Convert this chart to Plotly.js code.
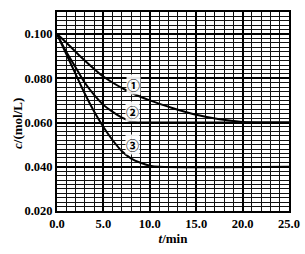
<!DOCTYPE html>
<html><head><meta charset="utf-8">
<script src="https://cdn.plot.ly/plotly-3.0.1.min.js"></script>
<style>html,body{margin:0;padding:0;background:#fff}#chart{width:305px;height:254px}</style>
</head><body><div id="chart"></div>
<script>
const t1 = [0, 1, 2.5, 5, 7.5, 10, 12.5, 15, 17.5, 20, 22.5, 25];
const c1 = [0.100, 0.0962, 0.0900, 0.0808, 0.0745, 0.0700, 0.0665, 0.0635, 0.0615, 0.0603, 0.0600, 0.0600];
const t2 = [0, 1, 2, 3, 4, 5, 6, 7, 8, 9, 10, 25];
const c2 = [0.100, 0.092, 0.085, 0.078, 0.0725, 0.068, 0.0648, 0.0622, 0.0605, 0.0600, 0.0600, 0.0600];
const t3 = [0, 1, 2, 3, 4, 5, 6, 7, 8, 9, 10, 11, 25];
const c3 = [0.100, 0.091, 0.082, 0.073, 0.065, 0.058, 0.052, 0.047, 0.0437, 0.0418, 0.0405, 0.0400, 0.0400];
const curveLabels = ['\u2460', '\u2461', '\u2462'];
const labelT = [8.2, 8.1, 8.1];
const labelC = [0.0773, 0.0650, 0.0500];
const xTicks = [0, 5, 10, 15, 20, 25];
const xTickText = ['0.0', '5.0', '10.0', '15.0', '20.0', '25.0'];
const yTicks = [0.02, 0.04, 0.06, 0.08, 0.10];
const yTickText = ['0.020', '0.040', '0.060', '0.080', '0.100'];

const line = {color: '#000', width: 2, shape: 'spline', smoothing: 0.8};
const data = [
  {x: t1, y: c1, mode: 'lines', line: line, hoverinfo: 'skip'},
  {x: t2, y: c2, mode: 'lines', line: line, hoverinfo: 'skip'},
  {x: t3, y: c3, mode: 'lines', line: line, hoverinfo: 'skip'}
];
const font = {family: 'Liberation Serif, serif', color: '#000'};
const annotations = curveLabels.map((s, i) => ({
  x: labelT[i], y: labelC[i], text: '<b>' + s + '</b>', showarrow: false,
  font: {family: 'Noto Sans CJK SC, DejaVu Sans', size: 13, color: '#000'},
  bgcolor: 'rgba(255,255,255,0.9)', borderpad: 0
}));
annotations.push({
  xref: 'paper', yref: 'paper', x: -0.17, y: 0.44, xanchor: 'center', yanchor: 'middle',
  textangle: -90, showarrow: false,
  text: '<b><i>c</i>/(mol/L)</b>', font: Object.assign({size: 13}, font)
});
const layout = {
  width: 305, height: 254,
  margin: {l: 57, r: 16, t: 12, b: 43},
  paper_bgcolor: '#fff', plot_bgcolor: '#fff',
  showlegend: false,
  xaxis: {
    range: [0, 25], tickvals: xTicks, ticktext: xTickText,
    tickfont: Object.assign({size: 12.5, weight: 'bold'}, font),
    showgrid: true, gridcolor: '#000', gridwidth: 2,
    minor: {dtick: 1, showgrid: true, gridcolor: '#111', gridwidth: 1},
    showline: true, linecolor: '#000', linewidth: 2, mirror: true,
    zeroline: false, ticks: '',
    title: {text: '<b><i>t</i>/min</b>', font: Object.assign({size: 13}, font), standoff: 3}
  },
  yaxis: {
    range: [0.02, 0.11], tickvals: yTicks, ticktext: yTickText,
    tickfont: Object.assign({size: 12.5, weight: 'bold'}, font),
    showgrid: true, gridcolor: '#000', gridwidth: 2,
    minor: {dtick: 0.002, tick0: 0.02, showgrid: true, gridcolor: '#111', gridwidth: 1},
    showline: true, linecolor: '#000', linewidth: 2, mirror: true,
    zeroline: false, ticks: ''
  },
  annotations: annotations
};
Plotly.newPlot('chart', data, layout, {staticPlot: true, displayModeBar: false});
</script></body></html>
